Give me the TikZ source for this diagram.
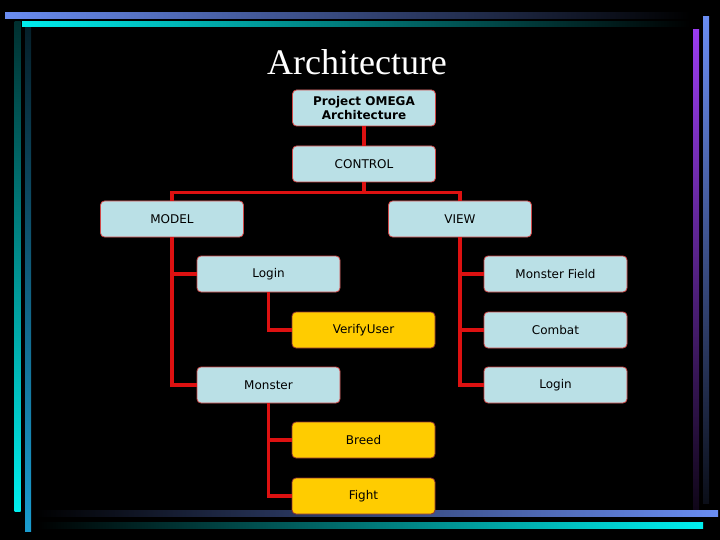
\documentclass[tikz,border=0pt]{standalone}
\usepackage{fontspec}
\setmainfont{Liberation Serif}
\newfontfamily\boxfont{DejaVu Sans}
\usetikzlibrary{calc}
\definecolor{barBlue}{HTML}{6A8DF2}
\definecolor{barCyan}{HTML}{00EEEE}
\definecolor{barTeal}{HTML}{1A9CD0}
\definecolor{barPurple}{HTML}{9A3CF0}
\definecolor{boxBlue}{HTML}{BAE0E6}
\definecolor{boxGold}{HTML}{FFCC00}
\definecolor{linkRed}{HTML}{DD1111}
\definecolor{edgeRed}{HTML}{D04848}

\begin{document}
\begin{tikzpicture}[x=1pt, y=-1pt,
  lbox/.style={draw=edgeRed, line width=0.8pt, rounded corners=4pt, fill=boxBlue, text=black,
    minimum width=143pt, minimum height=36pt, inner sep=0pt, align=center,
    font=\boxfont\fontsize{12}{14}\selectfont},
  ybox/.style={lbox, fill=boxGold, draw=edgeRed!70!black},
  link/.style={draw=linkRed, line width=3.6pt}]
\fill[black] (0,0) rectangle (720,540);
\useasboundingbox (0,0) rectangle (720,540);
% frame bars
\shade[left color=barBlue, middle color=barBlue!75!black, right color=black] (5,13) rectangle (690,18.5);
\shade[left color=barCyan, middle color=barCyan!65!black, right color=black] (22,21.7) rectangle (690,27);
\shade[top color=barCyan!20!black, bottom color=barCyan] (14.5,22) rectangle (20.5,511);
\shade[top color=barTeal!20!black, bottom color=barTeal] (25,27.5) rectangle (31,531);
\shade[top color=barPurple, bottom color=barPurple!10!black] (693,30) rectangle (699,510);
\shade[top color=barBlue, bottom color=barBlue!10!black] (703,16.5) rectangle (709,503);
\shade[left color=black, middle color=barBlue!70!black, right color=barBlue] (34,510) rectangle (718,516.5);
\shade[left color=black, middle color=barCyan!70!black, right color=barCyan] (37,522) rectangle (703,528.5);
% title
\node[text=white, anchor=base, font=\fontsize{36}{42}\selectfont] (title) at (357,75) {Architecture};
% boxes
\node[lbox, font=\boxfont\bfseries\fontsize{12}{14}\selectfont] (proj) at (364,108) {Project OMEGA\\Architecture};
\node[lbox] (ctrl) at (364,164) {CONTROL};
\node[lbox] (model) at (172,219) {MODEL};
\node[lbox] (view) at (460,219) {VIEW};
\node[lbox] (mlogin) at (268.5,274) {Login};
\node[lbox] (field) at (555.5,274) {Monster Field};
\node[ybox] (verify) at (363.5,330) {VerifyUser};
\node[lbox] (combat) at (555.5,330) {Combat};
\node[lbox] (monster) at (268.5,385) {Monster};
\node[lbox] (vlogin) at (555.5,385) {Login};
\node[ybox] (breed) at (363.5,440) {Breed};
\node[ybox] (fight) at (363.5,496) {Fight};
% links
\coordinate (fork) at ($(ctrl.south)+(0,10)$);
\draw[link] (proj) -- (ctrl);
\draw[link] (ctrl.south) -- (fork);
\draw[link] (model.north) |- (fork) -| (view.north);
\foreach \c in {mlogin,monster} \draw[link] (model.south) |- (\c.west);
\draw[link] (mlogin.south) |- (verify.west);
\foreach \c in {breed,fight} \draw[link] (monster.south) |- (\c.west);
\foreach \c in {field,combat,vlogin} \draw[link] (view.south) |- (\c.west);
\end{tikzpicture}
\end{document}
